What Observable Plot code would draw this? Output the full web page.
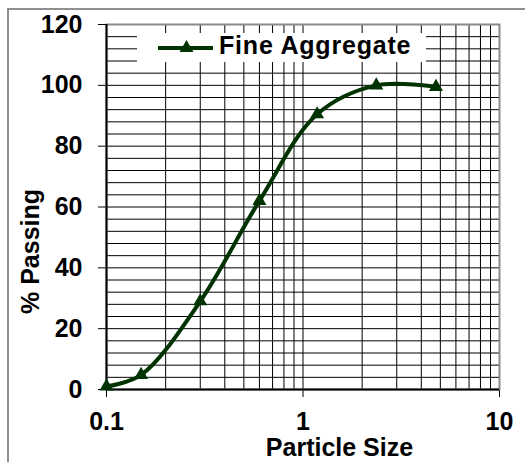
<!DOCTYPE html>
<html>
<head>
<meta charset="utf-8">
<script src="https://cdn.jsdelivr.net/npm/d3@7"></script>
<script src="https://cdn.jsdelivr.net/npm/@observablehq/plot@0.6"></script>
<style>
html, body { margin: 0; padding: 0; background: #fff; overflow: hidden; width: 525px; height: 462px; }
#wrap { position: relative; width: 525px; height: 462px; overflow: hidden; }
#border { position: absolute; left: 7px; top: 8px; width: 700px; height: 700px; border: 2px solid #8f8f8f; box-sizing: border-box; }
#chart { position: absolute; left: 0; top: 0; }
#legend { position: absolute; left: 137px; top: 33px; width: 289px; height: 29px; background: #fff; }
#legend svg { position: absolute; left: 0; top: 0; }
#legend span { position: absolute; left: 82px; top: -2px; font: bold 25px "Liberation Sans", Arial, sans-serif; color: #000; white-space: nowrap; letter-spacing: 0.8px; }
</style>
</head>
<body>
<div id="wrap">
  <div id="border"></div>
  <div id="chart"></div>
  <div id="legend"></div>
</div>
<script>
// ---- data ----
const seriesName = "Fine Aggregate";
const sizes   = [0.1, 0.15, 0.3, 0.6, 1.18, 2.36, 4.75];
const passing = [1, 4.8, 29, 62, 90.5, 100, 99.5];
const xTicks = [0.1, 1, 10];
const xTickLabels = ["0.1", "1", "10"];
const yTicks = [0, 20, 40, 60, 80, 100, 120];
const xTitle = "Particle Size";
const yTitle = "% Passing";

const lineColor = "#003300";
const rows = sizes.map((s, i) => ({size: s, pass: passing[i]}));
const xGrid = [];
for (let p = -1; p < 1; p++) for (let k = 1; k < 10; k++) xGrid.push(k * Math.pow(10, p));
xGrid.push(10);
const yGrid = d3.range(0, 121, 4);

const chart = Plot.plot({
  width: 525,
  height: 462,
  marginLeft: 106,
  marginRight: 26,
  marginTop: 24,
  marginBottom: 73,
  style: {fontFamily: "'Liberation Sans', Arial, sans-serif", fontWeight: "bold", fontSize: "25px", color: "#000", background: "transparent"},
  x: {type: "log", domain: [0.1, 10], ticks: xTicks, tickFormat: d => xTickLabels[xTicks.indexOf(d)], tickSize: 8, tickPadding: 15, label: null},
  y: {domain: [0, 120], ticks: yTicks, tickSize: 8, tickPadding: 16, label: null},
  marks: [
    Plot.ruleY(yGrid, {stroke: "#000", strokeWidth: 1}),
    Plot.ruleX(xGrid, {stroke: "#000", strokeWidth: 1}),
    Plot.frame({stroke: "#8a8a8a", strokeWidth: 2}),
    Plot.ruleX([0.1], {stroke: "#000", strokeWidth: 2}),
    Plot.ruleY([0], {stroke: "#000", strokeWidth: 2}),
    Plot.line(rows, {x: "size", y: "pass", stroke: lineColor, strokeWidth: 4, curve: "catmull-rom"}),
    Plot.dot(rows, {x: "size", y: "pass", symbol: "triangle", r: 5.2, fill: lineColor, stroke: null}),
    Plot.text([yTitle], {frameAnchor: "left", textAnchor: "middle", lineAnchor: "middle", dx: -76, dy: 44.5, rotate: -90, fontSize: 25, fontWeight: "bold", fill: "#000"}),
    Plot.text([xTitle], {frameAnchor: "bottom", textAnchor: "middle", lineAnchor: "middle", dx: 36.5, dy: 58, fontSize: 25, fontWeight: "bold", fill: "#000"})
  ]
});
document.getElementById("chart").appendChild(chart);

// legend
const lg = document.getElementById("legend");
const ns = "http://www.w3.org/2000/svg";
const sv = document.createElementNS(ns, "svg");
sv.setAttribute("width", 80); sv.setAttribute("height", 29);
const ln = document.createElementNS(ns, "line");
ln.setAttribute("x1", 21); ln.setAttribute("x2", 76); ln.setAttribute("y1", 15); ln.setAttribute("y2", 15);
ln.setAttribute("stroke", lineColor); ln.setAttribute("stroke-width", 4);
sv.appendChild(ln);
const tri = document.createElementNS(ns, "path");
tri.setAttribute("d", d3.symbol(d3.symbolTriangle, 5.2 * 5.2 * Math.PI)());
tri.setAttribute("transform", "translate(49.5,15)");
tri.setAttribute("fill", lineColor);
sv.appendChild(tri);
lg.appendChild(sv);
const sp = document.createElement("span");
sp.textContent = seriesName;
lg.appendChild(sp);
</script>
</body>
</html>
